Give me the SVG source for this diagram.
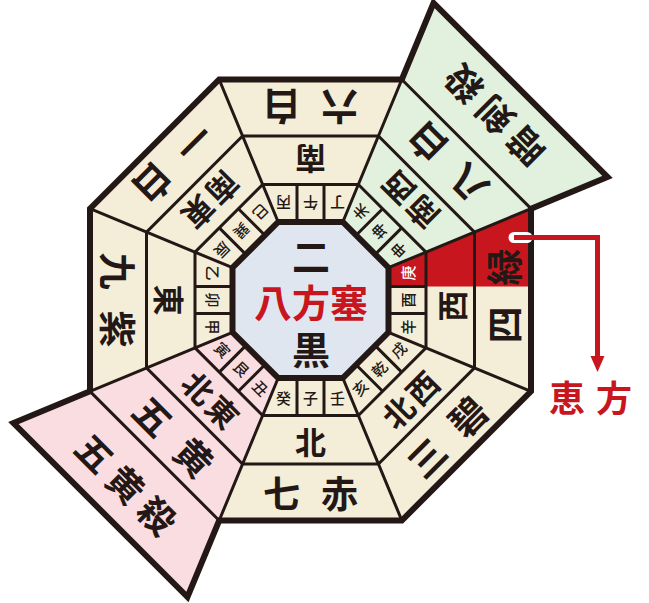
<svg xmlns="http://www.w3.org/2000/svg" width="649" height="603" viewBox="0 0 649 603">
<style>
text{font-family:"Noto Sans CJK JP","Noto Sans",sans-serif;fill:#231815;text-anchor:middle;dominant-baseline:central}
.s1{font-size:15px;font-weight:500}
.s2{font-size:31px;font-weight:700;letter-spacing:3px}
.s3{font-size:37px;font-weight:700;letter-spacing:21px}
.ex{font-size:36px;font-weight:700;letter-spacing:8px}
.cen{font-size:38px;font-weight:700}
.red{fill:#c8161e}
.wt{fill:#ffffff}
.cream{fill:#f4edd7}
.green{fill:#e2f0de}
.pink{fill:#fadde1}
.thin{fill:none;stroke:#231815;stroke-width:3}
.thick{fill:none;stroke:#231815;stroke-width:6;stroke-linejoin:miter}
</style>
<defs>
<polygon id="sec" points="278.19,378 342.81,378 401.83,520.5 219.17,520.5"/>
<polygon id="secx" points="278.19,378 342.81,378 433.52,597 187.48,597"/>
<path id="div" class="thin" d="M297,378V415.5M324,378V415.5"/>
</defs>

<g id="sector-n" transform="rotate(0 310.5 300)">
<use href="#sec" class="cream"/><use href="#div"/>
<text class="s1" x="283.5" y="397">癸</text><text class="s1" x="310.5" y="397">子</text><text class="s1" x="337.5" y="397">壬</text>
<text class="s2" x="312" y="440">北</text>
<text class="s3" x="321" y="492">七赤</text>
</g>
<g id="sector-nw" transform="rotate(-45 310.5 300)">
<use href="#sec" class="cream"/><use href="#div"/>
<text class="s1" x="283.5" y="397">亥</text><text class="s1" x="310.5" y="397">乾</text><text class="s1" x="337.5" y="397">戌</text>
<text class="s2" x="312" y="440">北西</text>
<text class="s3" x="321" y="492">三碧</text>
</g>
<g id="sector-w" transform="rotate(-90 310.5 300)">
<use href="#sec" class="cream"/>
<polygon class="red" points="324,378 342.81,378 401.83,520.5 324,520.5"/>
<use href="#div"/>
<text class="s1" x="283.5" y="397">辛</text><text class="s1" x="310.5" y="397">酉</text><text class="s1 wt" x="337.5" y="397">庚</text>
<text class="s2" x="306" y="440">西</text>
<text class="s3" x="325" y="492">四緑</text>
</g>
<g id="sector-sw" transform="rotate(-135 310.5 300)">
<use href="#secx" class="green"/><use href="#div"/>
<text class="s1" x="283.5" y="397">申</text><text class="s1" x="310.5" y="397">坤</text><text class="s1" x="337.5" y="397">未</text>
<text class="s2" x="312" y="440">南西</text>
<text class="s3" x="321" y="492">八白</text>
<text class="ex" x="314.5" y="559">暗剣殺</text>
</g>
<g id="sector-s" transform="rotate(180 310.5 300)">
<use href="#sec" class="cream"/><use href="#div"/>
<text class="s1" x="283.5" y="397">丁</text><text class="s1" x="310.5" y="397">午</text><text class="s1" x="337.5" y="397">丙</text>
<text class="s2" x="312" y="440">南</text>
<text class="s3" x="321" y="492">六白</text>
</g>
<g id="sector-se" transform="rotate(135 310.5 300)">
<use href="#sec" class="cream"/><use href="#div"/>
<text class="s1" x="283.5" y="397">巳</text><text class="s1" x="310.5" y="397">巽</text><text class="s1" x="337.5" y="397">辰</text>
<text class="s2" x="312" y="440">南東</text>
<text class="s3" x="321" y="492">一白</text>
</g>
<g id="sector-e" transform="rotate(90 310.5 300)">
<use href="#sec" class="cream"/><use href="#div"/>
<text class="s1" x="283.5" y="397">乙</text><text class="s1" x="310.5" y="397">卯</text><text class="s1" x="337.5" y="397">甲</text>
<text class="s2" x="312" y="440">東</text>
<text class="s3" x="321" y="492">九紫</text>
</g>
<g id="sector-ne" transform="rotate(45 310.5 300)">
<use href="#secx" class="pink"/><use href="#div"/>
<text class="s1" x="283.5" y="397">寅</text><text class="s1" x="310.5" y="397">艮</text><text class="s1" x="337.5" y="397">丑</text>
<text class="s2" x="312" y="440">北東</text>
<text class="s3" x="321" y="492">五黄</text>
<text class="ex" x="314.5" y="559">五黄殺</text>
</g>

<g id="grid">
<polygon class="thin" points="262.66,184.5 358.34,184.5 426,252.16 426,347.84 358.34,415.5 262.66,415.5 195,347.84 195,252.16"/>
<polygon class="thin" points="242.57,136 378.43,136 474.5,232.07 474.5,367.93 378.43,464 242.57,464 146.5,367.93 146.5,232.07"/>
<path class="thin" d="M278.19,222L219.17,79.5M342.81,222L401.83,79.5M388.5,267.69L531,208.67M388.5,332.31L531,391.33M342.81,378L401.83,520.5M278.19,378L219.17,520.5M232.5,332.31L90,391.33M232.5,267.69L90,208.67M401.83,79.5L531,208.67M90,391.33L219.17,520.5"/>
<path class="thick" d="M219.17,79.5L401.83,79.5L433.52,3L607.5,176.98L531,208.67L531,391.33L401.83,520.5L219.17,520.5L187.48,597L13.5,423.02L90,391.33L90,208.67Z"/>
</g>

<g id="center">
<polygon fill="#dfe6f0" stroke="#231815" stroke-width="6" points="278.19,222 342.81,222 388.5,267.69 388.5,332.31 342.81,378 278.19,378 232.5,332.31 232.5,267.69"/>
<text class="cen"><tspan x="311" y="254">二</tspan><tspan class="red" x="311" y="300">八方塞</tspan><tspan x="311" y="347">黒</tspan></text>
</g>

<g id="connectors">
<line x1="514" y1="237.5" x2="527" y2="237.5" stroke="#ffffff" stroke-width="11" stroke-linecap="round"/>
<polyline points="514,237.5 597.5,237.5 597.5,358" fill="none" stroke="#c8161e" stroke-width="5"/>
<polygon class="red" points="590.5,356 604.5,356 597.5,372"/>
</g>
<g id="ehou">
<text class="red" x="549" y="396" style="text-anchor:start;font-size:36px;font-weight:700;letter-spacing:11px">恵方</text>
</g>
</svg>
